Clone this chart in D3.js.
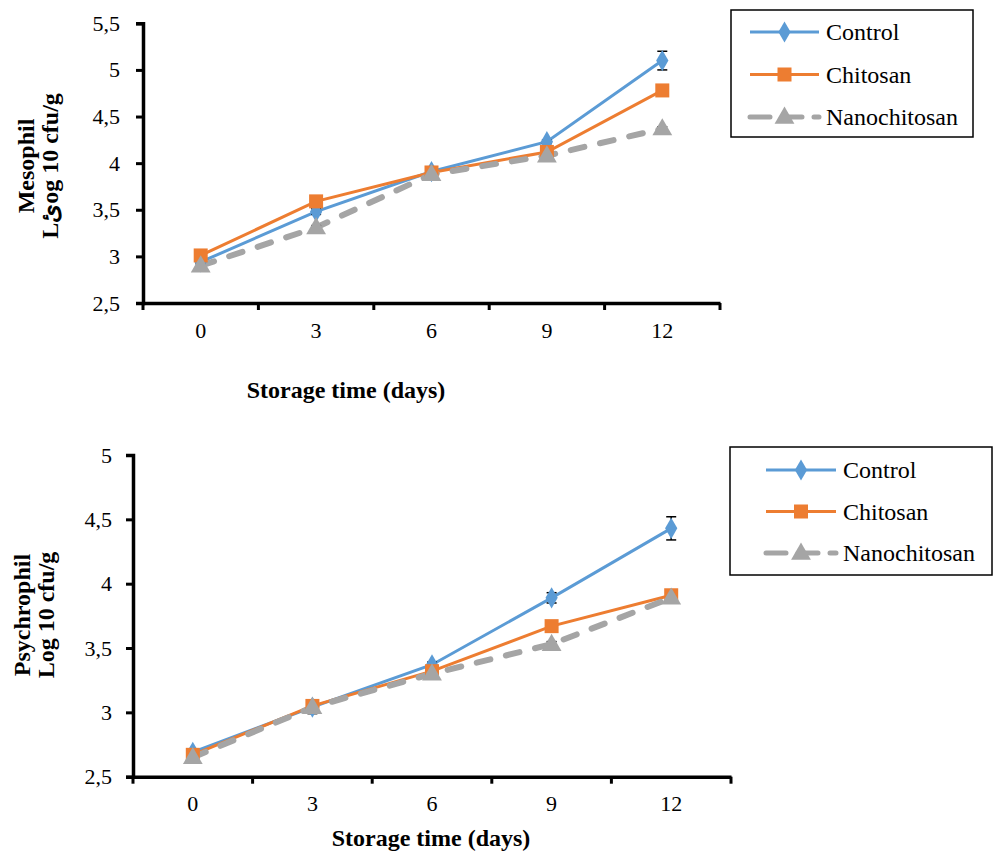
<html>
<head>
<style>
body { margin: 0; background: #fff; }
</style>
</head>
<body>
<script src="https://d3js.org/d3.v7.min.js"></script>
<script>
const days = [0, 3, 6, 9, 12];
const series = ['Control', 'Chitosan', 'Nanochitosan'];

// Mesophil (top)
const mesoControl   = [2.94, 3.48, 3.91, 4.23, 5.10];
const mesoChitosan  = [3.01, 3.59, 3.90, 4.12, 4.78];
const mesoNano      = [2.90, 3.31, 3.88, 4.08, 4.37];
const mesoControlErr  = [0.02, 0.03, 0.03, 0.02, 0.10];
const mesoChitosanErr = [0.02, 0.02, 0.02, 0.02, 0.02];
const mesoNanoErr     = [0.02, 0.02, 0.02, 0.02, 0.02];
const mesoTicks = [2.5, 3, 3.5, 4, 4.5, 5, 5.5];

// Psychrophil (bottom)
const psyControl   = [2.69, 3.04, 3.37, 3.89, 4.43];
const psyChitosan  = [2.67, 3.05, 3.32, 3.67, 3.91];
const psyNano      = [2.65, 3.04, 3.30, 3.53, 3.89];
const psyControlErr  = [0.02, 0.05, 0.02, 0.04, 0.09];
const psyChitosanErr = [0.02, 0.02, 0.02, 0.02, 0.02];
const psyNanoErr     = [0.02, 0.02, 0.02, 0.02, 0.02];
const psyTicks = [2.5, 3, 3.5, 4, 4.5, 5];

const colors = ['#5B9BD5', '#ED7D31', '#A5A5A5'];
const serif = '"Times New Roman", "Liberation Serif", "DejaVu Serif", serif';

const svg = d3.select('body').append('svg')
    .attr('width', 997)
    .attr('height', 855)
    .style('font-family', serif);

const fmt = v => String(v).replace('.', ',');

function marker(g, i, x, y) {
    if (i == 0) {
        g.append('path').attr('d', d3.symbol(d3.symbolDiamond, 130)())
            .attr('transform', 'translate(' + x + ',' + y + ')').attr('fill', colors[i]);
    } else if (i == 1) {
        g.append('rect').attr('x', x - 7).attr('y', y - 7).attr('width', 14).attr('height', 14)
            .attr('fill', colors[i]);
    } else {
        g.append('path').attr('d', d3.symbol(d3.symbolTriangle, 170)())
            .attr('transform', 'translate(' + x + ',' + (y + 1) + ')').attr('fill', colors[i]);
    }
}

function lineStyle(sel, i) {
    sel.attr('fill', 'none').attr('stroke', colors[i]);
    if (i == 2) {
        sel.attr('stroke-width', 6).attr('stroke-dasharray', '14,16').attr('stroke-linecap', 'round');
    } else {
        sel.attr('stroke-width', 3);
    }
}

function drawChart(c) {
    const x = d3.scaleBand().domain(days).range([c.x0, c.x1]);
    const y = d3.scaleLinear().domain([c.ticks[0], c.ticks[c.ticks.length - 1]]).range([c.yb, c.yt]);
    const g = svg.append('g');
    const cx = d => x(d) + x.bandwidth() / 2;

    // y axis
    const ya = g.append('g').attr('transform', 'translate(' + c.x0 + ',0)')
        .call(d3.axisLeft(y).tickValues(c.ticks).tickFormat(fmt).tickSize(7).tickPadding(c.yPad));
    ya.select('.domain').attr('stroke-width', 3.5);
    ya.selectAll('.tick line').attr('stroke-width', 3);

    // x axis: labels centred, ticks on band edges
    const xa = g.append('g').attr('transform', 'translate(0,' + c.yb + ')')
        .call(d3.axisBottom(x).tickSizeOuter(0).tickSize(0).tickPadding(c.labelPad));
    xa.select('.domain').attr('stroke-width', 3.5);
    [ya, xa].forEach(a => a.attr('font-size', null).attr('font-family', null));
    g.selectAll('.tick text')
        .style('font-family', serif).style('font-size', '22px').style('fill', '#000');
    const edges = days.map(d => x(d)).concat([c.x1]);
    g.selectAll('.xtick').data(edges).enter().append('line')
        .attr('x1', d => d).attr('x2', d => d)
        .attr('y1', c.yb).attr('y2', c.yb + 7)
        .attr('stroke', '#000').attr('stroke-width', 3);

    // titles
    g.append('text').style('font-size', '24px').style('font-weight', 'bold').attr('text-anchor', 'middle')
        .attr('x', c.xtX).attr('y', c.xtY).text('Storage time (days)');
    const yt = g.append('text').style('font-size', '24px').style('font-weight', 'bold').attr('text-anchor', 'middle')
        .attr('transform', 'translate(' + c.ytX + ',' + c.ytY + ') rotate(-90)');
    yt.append('tspan').attr('x', 0).attr('dy', 0).text(c.yLabel1);
    yt.append('tspan').attr('x', 0).attr('dy', 24).text(c.yLabel2);

    // series
    c.data.forEach((vals, i) => {
        const line = d3.line().x((v, k) => cx(days[k])).y(v => y(v));
        lineStyle(g.append('path').attr('d', line(vals)), i);
    });
    c.data.forEach((vals, i) => {
        const err = c.err[i];
        vals.forEach((v, k) => {
            const px = cx(days[k]);
            const eb = g.append('g').attr('stroke', '#000').attr('stroke-width', 1.5);
            eb.append('line').attr('x1', px).attr('x2', px).attr('y1', y(v - err[k])).attr('y2', y(v + err[k]));
            eb.append('line').attr('x1', px - 5).attr('x2', px + 5).attr('y1', y(v - err[k])).attr('y2', y(v - err[k]));
            eb.append('line').attr('x1', px - 5).attr('x2', px + 5).attr('y1', y(v + err[k])).attr('y2', y(v + err[k]));
        });
    });
    c.data.forEach((vals, i) => {
        vals.forEach((v, k) => marker(g, i, cx(days[k]), y(v)));
    });

    // legend
    const lg = svg.append('g');
    lg.append('rect').attr('x', c.lx).attr('y', c.ly).attr('width', c.lw).attr('height', c.lh)
        .attr('fill', '#fff').attr('stroke', '#000').attr('stroke-width', 1.5);
    series.forEach((s, i) => {
        const ry = c.ly + c.lrow0 + i * c.lstep;
        const l = lg.append('line').attr('x1', c.lx + c.l1).attr('x2', c.lx + c.l2).attr('y1', ry).attr('y2', ry);
        lineStyle(l, i);
        if (i == 2) l.attr('stroke-dasharray', '20,12').attr('stroke-width', 5);
        marker(lg, i, c.lx + (c.l1 + c.l2) / 2, ry);
        lg.append('text').style('font-size', '24px').attr('x', c.lx + c.l2 + 7).attr('y', ry).attr('dy', '0.35em').text(s);
    });
}

drawChart({
    x0: 143, x1: 720, yb: 303, yt: 23.3, ticks: mesoTicks, labelPad: 19, yPad: 16,
    data: [mesoControl, mesoChitosan, mesoNano],
    err: [mesoControlErr, mesoChitosanErr, mesoNanoErr],
    xtX: 346, xtY: 398, ytX: 34, ytY: 166,
    yLabel1: 'Mesophil', yLabel2: 'Lئog 10 cfu/g',
    lx: 731, ly: 10, lw: 242, lh: 127, lrow0: 22, lstep: 42.5, l1: 19, l2: 88
});

drawChart({
    x0: 133, x1: 731, yb: 776.7, yt: 455, ticks: psyTicks, labelPad: 19, yPad: 14,
    data: [psyControl, psyChitosan, psyNano],
    err: [psyControlErr, psyChitosanErr, psyNanoErr],
    xtX: 431, xtY: 846, ytX: 30, ytY: 615,
    yLabel1: 'Psychrophil', yLabel2: 'Log 10 cfu/g',
    lx: 730, ly: 447, lw: 262, lh: 128, lrow0: 23, lstep: 41.5, l1: 36, l2: 106
});
</script>
</body>
</html>
